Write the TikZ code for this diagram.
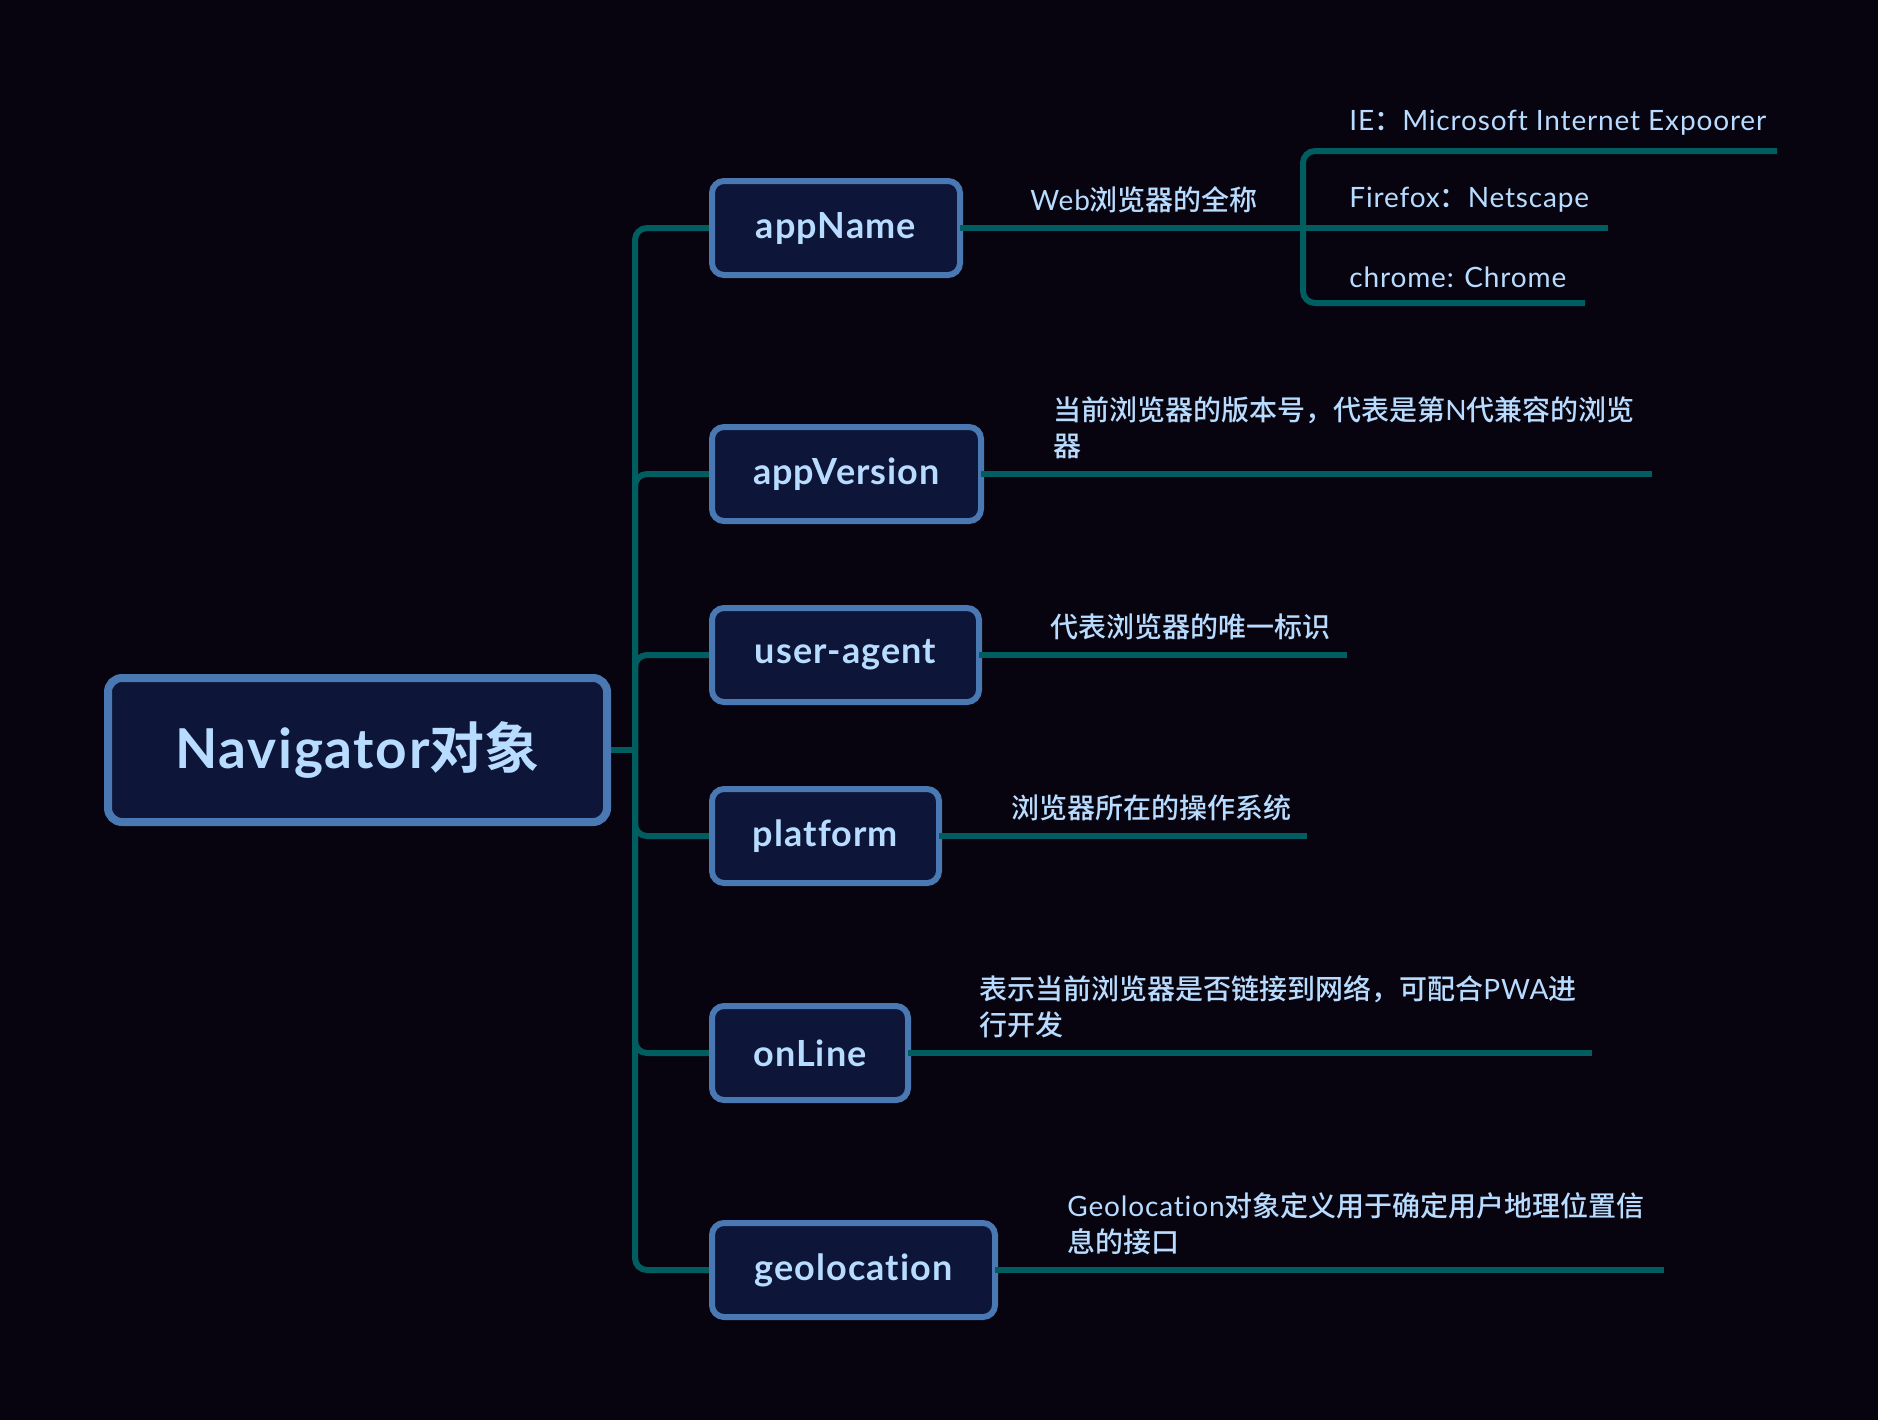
\documentclass[tikz,border=0pt]{standalone}
\usepackage{fontspec}
\setmainfont{Lato}[LetterSpace=3, Ligatures={NoCommon}]
\newfontfamily\cjk{Noto Sans CJK SC}[UprightFont=* Medium, BoldFont=* Bold]
\newcommand{\zh}[1]{{\cjk #1}}
\definecolor{bgdark}{HTML}{08040F}
\definecolor{boxfill}{HTML}{0D1538}
\definecolor{boxline}{HTML}{4A78B2}
\definecolor{txtblue}{HTML}{B8DCFF}
\definecolor{branchcol}{HTML}{005E60}

\begin{document}
\begin{tikzpicture}[x=0.5pt, y=-0.5pt]

\tikzset{
  rootbox/.style={draw=boxline, fill=boxfill, line width=4pt, rounded corners=7pt,
    minimum width=249.5pt, minimum height=72pt, inner sep=0pt, outer sep=0pt, text=txtblue,
    font=\bfseries\fontsize{27.5pt}{30pt}\selectfont},
  topic/.style={draw=boxline, fill=boxfill, line width=3pt, rounded corners=6pt,
    minimum height=47pt, inner sep=0pt, outer sep=0pt, text=txtblue, anchor=west,
    font=\bfseries\fontsize{18pt}{20pt}\selectfont},
  leaf/.style={inner sep=0pt, anchor=south west, align=left, text=txtblue,
    font=\fontsize{14pt}{18pt}\selectfont},
  branch/.style={draw=branchcol, line width=3pt, rounded corners=6pt},
}

\fill[bgdark] (0,0) rectangle (1878,1420);
\useasboundingbox (0,0) rectangle (1878,1420);

\coordinate (trunk) at (635,750);
\coordinate (nameFork) at (1303,228);
\coordinate (ieEnd) at (1777,151);
\coordinate (ffEnd) at (1608,228);
\coordinate (chEnd) at (1585,303);
\coordinate (verEnd) at (1652,474);
\coordinate (uaEnd) at (1347,655);
\coordinate (platEnd) at (1307,836);
\coordinate (onEnd) at (1592,1053);
\coordinate (geoEnd) at (1664,1270);

\draw[branch] (611,750) -- (trunk);
\draw[branch] (trunk) |- (712,228);
\draw[branch] (trunk) |- (712,474);
\draw[branch] (trunk) |- (712,655);
\draw[branch] (trunk) |- (712,836);
\draw[branch] (trunk) |- (712,1053);
\draw[branch] (trunk) |- (712,1270);

\node[rootbox,name=root] at (357.5,750) {Navigator\zh{对象}};
\node[topic,name=appName,minimum width=124pt] at (712,228) {appName};
\node[topic,name=appVersion,minimum width=134.5pt] at (712,474) {appVersion};
\node[topic,name=userAgent,minimum width=133.5pt] at (712,655) {user-agent};
\node[topic,name=platform,minimum width=113.5pt] at (712,836) {platform};
\node[topic,name=onLine,minimum width=98pt] at (712,1053) {onLine};
\node[topic,name=geolocation,minimum width=141.5pt] at (712,1270) {geolocation};

\draw[branch] (appName.east) -- (nameFork);
\draw[branch] (nameFork) |- (ieEnd);
\draw[branch] (nameFork) -- (ffEnd);
\draw[branch] (nameFork) |- (chEnd);
\draw[branch] (appVersion.east) -- (verEnd);
\draw[branch] (userAgent.east) -- (uaEnd);
\draw[branch] (platform.east) -- (platEnd);
\draw[branch] (onLine.east) -- (onEnd);
\draw[branch] (geolocation.east) -- (geoEnd);

\node[leaf,name=nameTxt] at (1030,213) {Web\zh{浏览器的全称}};
\node[leaf,name=ieTxt] at (1349,136) {IE\zh{：}Microsoft Internet Expoorer};
\node[leaf,name=ffTxt] at (1349,213) {Firefox\zh{：}Netscape};
\node[leaf,name=chTxt] at (1349,288) {chrome: Chrome};
\node[leaf,name=verTxt] at (1053,459) {\zh{当前浏览器的版本号，代表是第}N\zh{代兼容的浏览}\\\zh{器}};
\node[leaf,name=uaTxt] at (1050,640) {\zh{代表浏览器的唯一标识}};
\node[leaf,name=platTxt] at (1011,821) {\zh{浏览器所在的操作系统}};
\node[leaf,name=onTxt] at (979,1038) {\zh{表示当前浏览器是否链接到网络，可配合}PWA\zh{进}\\\zh{行开发}};
\node[leaf,name=geoTxt] at (1067,1255) {Geolocation\zh{对象定义用于确定用户地理位置信}\\\zh{息的接口}};

\end{tikzpicture}
\end{document}
